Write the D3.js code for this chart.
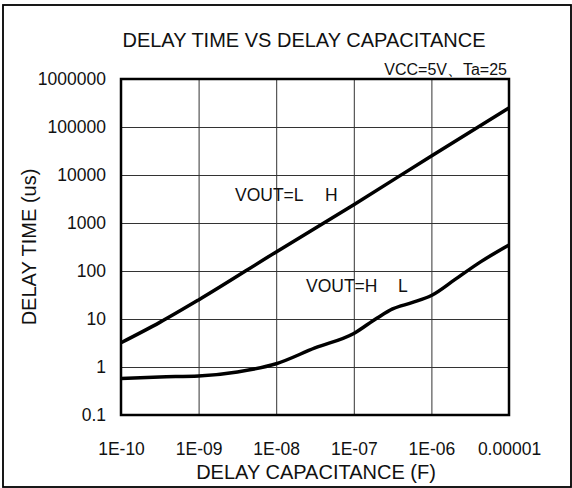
<!DOCTYPE html>
<html lang="en">
<head>
<meta charset="utf-8">
<title>Delay time vs delay capacitance</title>
<script src="https://d3js.org/d3.v7.min.js"></script>
<style>
    body { margin: 0; background: #fff; }
    svg { display: block; }
    text { font-family: 'Liberation Sans', Arial, sans-serif; fill: #111; }
    .tick text { font-size: 17.5px; }
</style>
</head>
<body>
<svg id="chart"></svg>
<script>
    // tick values and their printed labels
    const capTicks = [1e-10, 1e-9, 1e-8, 1e-7, 1e-6, 1e-5];
    const capTickLabels = ["1E-10", "1E-09", "1E-08", "1E-07", "1E-06", "0.00001"];
    const timeTicks = [0.1, 1, 10, 100, 1000, 10000, 100000, 1000000];
    const timeTickLabels = ["0.1", "1", "10", "100", "1000", "10000", "100000", "1000000"];

    // VOUT = L -> H curve (capacitance F, delay us)
    const lhCap  = [1e-10, 3.16e-10, 1e-9, 1e-8, 1e-7, 1e-6, 1e-5];
    const lhTime = [3.2, 8.5, 25, 250, 2400, 25000, 250000];

    // VOUT = H -> L curve
    const hlCap  = [1e-10, 3.16e-10, 1e-9, 3.16e-9, 1e-8, 3.16e-8, 1e-7, 2e-7, 3.16e-7, 5.6e-7, 1e-6, 2e-6, 4.3e-6, 1e-5];
    const hlTime = [0.575, 0.62, 0.65, 0.79, 1.17, 2.5, 5.0, 10.5, 16.2, 21.9, 30.9, 66, 155, 347];

    const WIDTH = 572, HEIGHT = 488;
    const LEFT = 121, RIGHT = 509, TOP = 79, BOTTOM = 415;

    const svg = d3.select('#chart')
        .attr('width', WIDTH)
        .attr('height', HEIGHT);

    // outer frame
    svg.append('rect')
        .attr('x', 3).attr('y', 5)
        .attr('width', 568).attr('height', 482)
        .attr('fill', 'none')
        .attr('stroke', '#000')
        .attr('stroke-width', 1.8);

    const x = d3.scaleLog().domain([1e-10, 1e-5]).range([LEFT, RIGHT]);
    const y = d3.scaleLog().domain([0.1, 1e6]).range([BOTTOM, TOP]);

    // horizontal grid + y labels
    svg.append('g')
        .attr('transform', `translate(${LEFT},0)`)
        .call(d3.axisLeft(y)
            .tickValues(timeTicks)
            .tickFormat((d, i) => timeTickLabels[i])
            .tickSize(-(RIGHT - LEFT))
            .tickPadding(15))
        .call(g => g.select('.domain').remove())
        .call(g => g.selectAll('.tick line').attr('stroke', '#333').attr('stroke-width', 1));

    // vertical grid + x labels
    svg.append('g')
        .attr('transform', `translate(0,${BOTTOM})`)
        .call(d3.axisBottom(x)
            .tickValues(capTicks)
            .tickFormat((d, i) => capTickLabels[i])
            .tickSize(-(BOTTOM - TOP))
            .tickPadding(28))
        .call(g => g.select('.domain').remove())
        .call(g => g.selectAll('.tick line').attr('stroke', '#333').attr('stroke-width', 1));

    // plot border
    svg.append('rect')
        .attr('x', LEFT).attr('y', TOP)
        .attr('width', RIGHT - LEFT).attr('height', BOTTOM - TOP)
        .attr('fill', 'none')
        .attr('stroke', '#000')
        .attr('stroke-width', 2.5);

    // curves
    const line = d3.line()
        .x(d => x(d[0]))
        .y(d => y(d[1]))
        .curve(d3.curveMonotoneX);

    [[lhCap, lhTime], [hlCap, hlTime]].forEach(([cs, ts]) => {
        svg.append('path')
            .datum(cs.map((c, i) => [c, ts[i]]))
            .attr('d', line)
            .attr('fill', 'none')
            .attr('stroke', '#000')
            .attr('stroke-width', 3.5)
            .attr('stroke-linejoin', 'round');
    });

    // titles
    svg.append('text')
        .attr('x', 304).attr('y', 47)
        .attr('text-anchor', 'middle')
        .style('font-size', '20px')
        .text('DELAY TIME VS DELAY CAPACITANCE');

    svg.append('text')
        .attr('x', 507).attr('y', 75)
        .attr('text-anchor', 'end')
        .style('font-size', '16px')
        .text('VCC=5V、Ta=25');

    svg.append('text')
        .attr('x', 316).attr('y', 479)
        .attr('text-anchor', 'middle')
        .style('font-size', '20px')
        .text('DELAY CAPACITANCE (F)');

    svg.append('text')
        .attr('transform', 'translate(36,247) rotate(-90)')
        .attr('text-anchor', 'middle')
        .style('font-size', '20px')
        .text('DELAY TIME (us)');

    // curve labels (the arrow glyph is blank in the original)
    const curveLabels = [
        { x: 235, y: 201, left: 'VOUT=L', right: 'H', rx: 325 },
        { x: 306, y: 292, left: 'VOUT=H', right: 'L', rx: 398 }
    ];
    curveLabels.forEach(l => {
        const t = svg.append('text')
            .attr('y', l.y)
            .style('font-size', '17.5px');
        t.append('tspan').attr('x', l.x).text(l.left);
        t.append('tspan').attr('x', l.rx).text(l.right);
    });
</script>
</body>
</html>
